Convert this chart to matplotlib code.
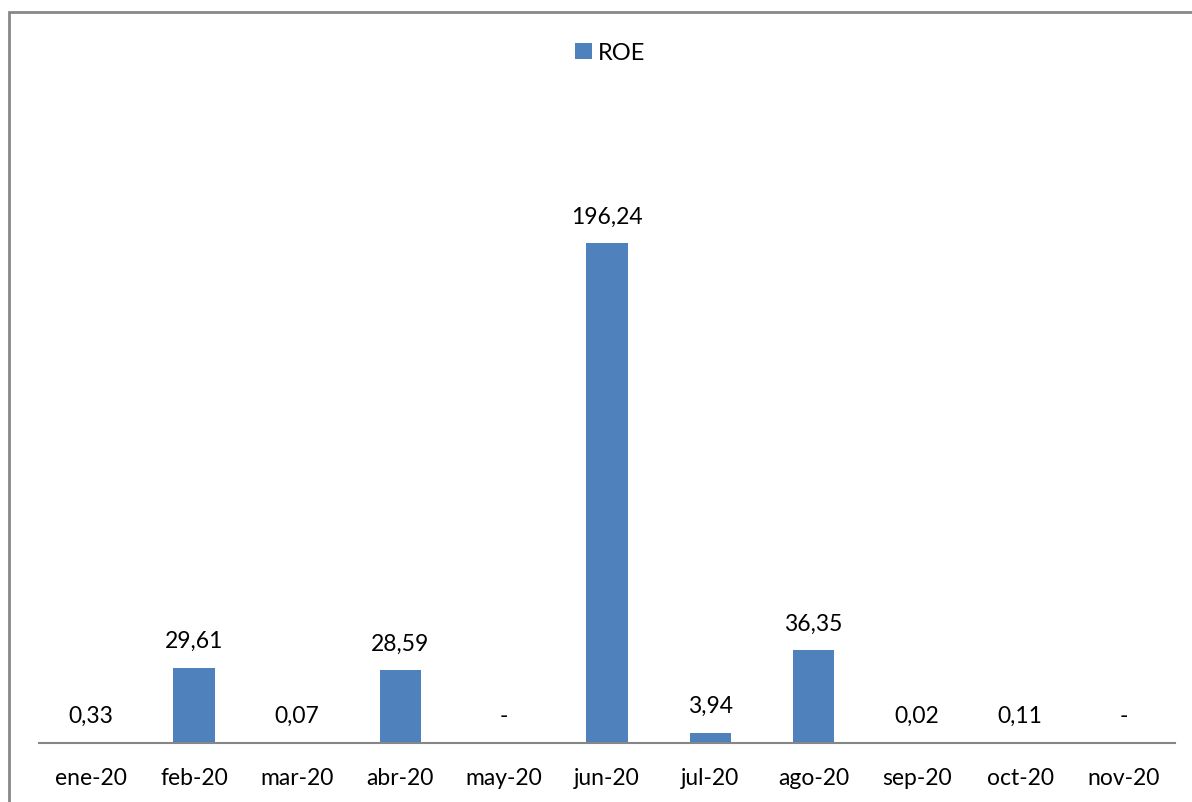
import matplotlib.pyplot as plt
from matplotlib.patches import Rectangle

months = ["ene-20", "feb-20", "mar-20", "abr-20", "may-20", "jun-20",
          "jul-20", "ago-20", "sep-20", "oct-20", "nov-20"]
roe = [0.33, 29.61, 0.07, 28.59, 0.0, 196.24, 3.94, 36.35, 0.02, 0.11, 0.0]
labels = ["0,33", "29,61", "0,07", "28,59", "-", "196,24",
          "3,94", "36,35", "0,02", "0,11", "-"]

plt.rcParams['font.family'] = ['Lato', 'DejaVu Sans']

fig = plt.figure(figsize=(11.92, 8.03), dpi=100)
ax = fig.add_axes([0.0327, 0.0735, 0.953, 0.793])

x = list(range(len(months)))
bars = ax.bar(x, roe, width=0.4, color='#4F81BD', label='ROE')

for xi, v, lab in zip(x, roe, labels):
    ax.annotate(lab, (xi, v), xytext=(0, 12), textcoords='offset points',
                ha='center', va='bottom', fontsize=16.5, color='black')

ax.set_xlim(-0.5, len(months) - 0.5)
ax.set_ylim(0, 250)
ax.set_xticks(x)
ax.set_xticklabels(months, fontsize=16.5)
ax.tick_params(axis='x', length=0, pad=17)
ax.set_yticks([])
for s in ['top', 'right', 'left']:
    ax.spines[s].set_visible(False)
ax.spines['bottom'].set_color('#868686')
ax.spines['bottom'].set_linewidth(1.5)

fig.legend(handles=[bars], loc='center', bbox_to_anchor=(0.512, 0.933),
           frameon=False, fontsize=17, handlelength=0.7, handleheight=0.7,
           handletextpad=0.25)

fig.patches.append(Rectangle((9 / 1192, -0.1), 1.2, 1 - 13 / 803 + 0.1,
                             transform=fig.transFigure, fill=False,
                             edgecolor='#878787', linewidth=2))

fig.savefig('out.png', dpi=100)
